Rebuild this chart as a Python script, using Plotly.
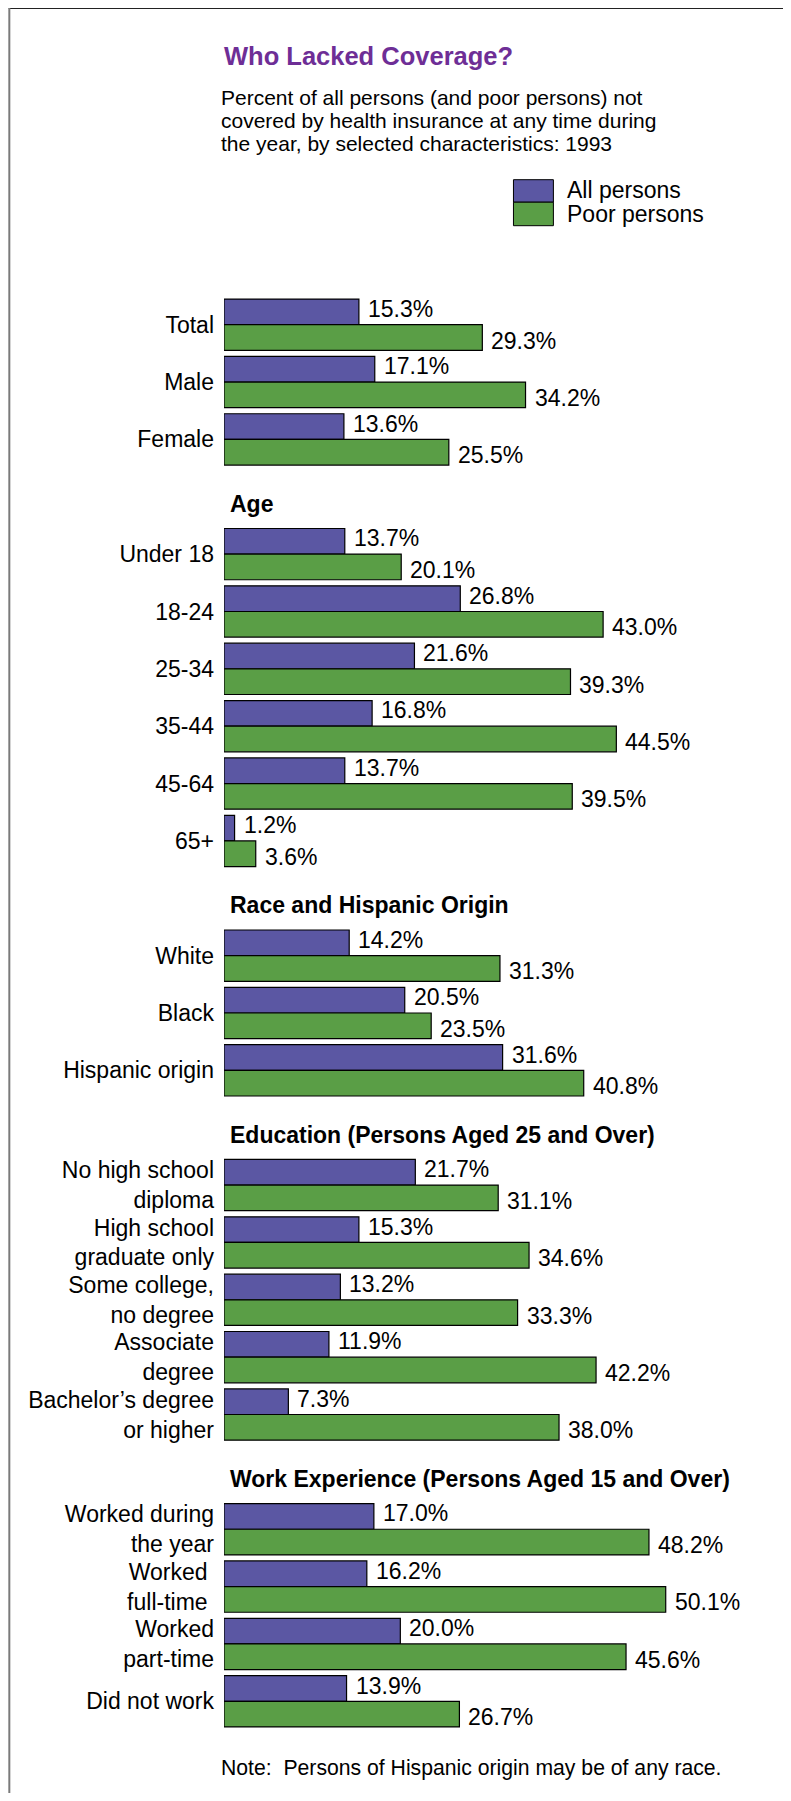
import plotly.graph_objects as go

# ---------------- data ----------------
section_titles = ["", "Age", "Race and Hispanic Origin",
                  "Education (Persons Aged 25 and Over)",
                  "Work Experience (Persons Aged 15 and Over)"]

section_categories = [
    ["Total", "Male", "Female"],
    ["Under 18", "18-24", "25-34", "35-44", "45-64", "65+"],
    ["White", "Black", "Hispanic origin"],
    ["No high school<br>diploma", "High school<br>graduate only",
     "Some college,<br>no degree", "Associate<br>degree",
     "Bachelor\u2019s degree<br>or higher"],
    ["Worked during<br>the year", "Worked\u00a0<br>full-time\u00a0",
     "Worked<br>part-time", "Did not work"],
]

all_persons = [
    [15.3, 17.1, 13.6],
    [13.7, 26.8, 21.6, 16.8, 13.7, 1.2],
    [14.2, 20.5, 31.6],
    [21.7, 15.3, 13.2, 11.9, 7.3],
    [17.0, 16.2, 20.0, 13.9],
]

poor_persons = [
    [29.3, 34.2, 25.5],
    [20.1, 43.0, 39.3, 44.5, 39.5, 3.6],
    [31.3, 23.5, 40.8],
    [31.1, 34.6, 33.3, 42.2, 38.0],
    [48.2, 50.1, 45.6, 26.7],
]

series_names = ["All persons", "Poor persons"]

title_text = "Who Lacked Coverage?"
subtitle_lines = ["Percent of all persons (and poor persons) not",
                  "covered by health insurance at any time during",
                  "the year, by selected characteristics: 1993"]
note_text = "Note:  Persons of Hispanic origin may be of any race."

# ---------------- styling ----------------
BLUE = "#5B57A3"
GREEN = "#5A9E46"
PURPLE = "#6E2E96"
FONT = "Liberation Sans, Arial, Helvetica, sans-serif"

OFF = 8                      # page body margin
W, H = 783, 1785             # figure size (fits the window with the body margin)
L, R, T, B = 215.6, 37.6, 288.3, 62.7
PW, PH = W - L - R, H - T - B


def xp(px_page):
    return (px_page - OFF - L) / PW


def yp(py_page):
    return 1 - (py_page - OFF - T) / PH


# ---------------- slot layout ----------------
cat_slots, cat_labels, vals_all, vals_poor, header_slots = [], [], [], [], []
slot = 0
for title, cats, a, p in zip(section_titles, section_categories, all_persons, poor_persons):
    if title:
        header_slots.append((slot, title))
        slot += 1
    for c, va, vp in zip(cats, a, p):
        cat_slots.append(slot)
        cat_labels.append(c)
        vals_all.append(va)
        vals_poor.append(vp)
        slot += 1
n_slots = slot
BW = 0.447

fig = go.Figure()
fig.add_trace(go.Bar(
    y=cat_slots, x=vals_all, orientation="h", name=series_names[0],
    offset=-BW, width=BW,
    marker=dict(color=BLUE, line=dict(color="black", width=1.2)),
    hoverinfo="x+name", showlegend=False))
fig.add_trace(go.Bar(
    y=cat_slots, x=vals_poor, orientation="h", name=series_names[1],
    offset=0, width=BW,
    marker=dict(color=GREEN, line=dict(color="black", width=1.2)),
    hoverinfo="x+name", showlegend=False))

annotations = []
# value labels
for s, va, vp in zip(cat_slots, vals_all, vals_poor):
    annotations.append(dict(x=va, y=s - BW / 2, xref="x", yref="y",
                            text=f"{va:.1f}%", showarrow=False,
                            xanchor="left", yanchor="middle", xshift=7, yshift=3,
                            font=dict(size=23, color="black", family=FONT)))
    annotations.append(dict(x=vp, y=s + BW / 2, xref="x", yref="y",
                            text=f"{vp:.1f}%", showarrow=False,
                            xanchor="left", yanchor="middle", xshift=7, yshift=-3,
                            font=dict(size=23, color="black", family=FONT)))
# section headers
for s, t in header_slots:
    annotations.append(dict(x=0, y=s, xref="x", yref="y", text=f"<b>{t}</b>",
                            showarrow=False, xanchor="left", yanchor="middle",
                            xshift=4, yshift=-7,
                            font=dict(size=23, color="black", family=FONT)))
# title & subtitle
annotations.append(dict(x=xp(222), y=yp(56), xref="paper", yref="paper",
                        text=f"<b>{title_text}</b>", showarrow=False,
                        xanchor="left", yanchor="middle",
                        font=dict(size=25.5, color=PURPLE, family=FONT)))
for i, line in enumerate(subtitle_lines):
    annotations.append(dict(x=xp(219), y=yp(98 + 23 * i), xref="paper", yref="paper",
                            text=line, showarrow=False, xanchor="left", yanchor="middle",
                            font=dict(size=21, color="black", family=FONT)))
# legend text
for i, name in enumerate(series_names):
    annotations.append(dict(x=xp(565), y=yp(190 + 24 * i), xref="paper", yref="paper",
                            text=name, showarrow=False, xanchor="left", yanchor="middle",
                            font=dict(size=23, color="black", family=FONT)))
# note
annotations.append(dict(x=xp(219), y=yp(1768), xref="paper", yref="paper",
                        text=note_text, showarrow=False, xanchor="left", yanchor="middle",
                        font=dict(size=21.2, color="black", family=FONT)))

shapes = [
    # legend swatches
    dict(type="rect", xref="paper", yref="paper", x0=xp(513.5), x1=xp(553.5),
         y0=yp(180), y1=yp(202.5), fillcolor=BLUE, line=dict(color="black", width=1)),
    dict(type="rect", xref="paper", yref="paper", x0=xp(513.5), x1=xp(553.5),
         y0=yp(202.5), y1=yp(226), fillcolor=GREEN, line=dict(color="black", width=1)),
    # frame lines (top and left edges of the figure)
    dict(type="line", xref="paper", yref="paper", x0=xp(OFF), x1=xp(OFF + W + 4),
         y0=yp(OFF + 0.6), y1=yp(OFF + 0.6), line=dict(color="#222222", width=1.5)),
    dict(type="line", xref="paper", yref="paper", x0=xp(OFF + 0.6), x1=xp(OFF + 0.6),
         y0=yp(OFF), y1=yp(OFF + H + 4), line=dict(color="#7a7a7a", width=2)),
]

fig.update_layout(
    width=W, height=H,
    margin=dict(l=L, r=R, t=T, b=B, pad=0),
    paper_bgcolor="white", plot_bgcolor="white",
    font=dict(family=FONT, color="black"),
    barmode="overlay",
    showlegend=False,
    annotations=annotations,
    shapes=shapes,
    xaxis=dict(range=[0, 60], visible=False, showgrid=False, zeroline=False, fixedrange=True),
    yaxis=dict(range=[n_slots - 0.5, -0.5], tickmode="array", tickvals=cat_slots,
               ticktext=cat_labels, showgrid=False, zeroline=False, showline=False,
               ticks="", ticklabelstandoff=9, tickfont=dict(size=23, color="black", family=FONT),
               fixedrange=True),
)

fig.write_html("out.html")
